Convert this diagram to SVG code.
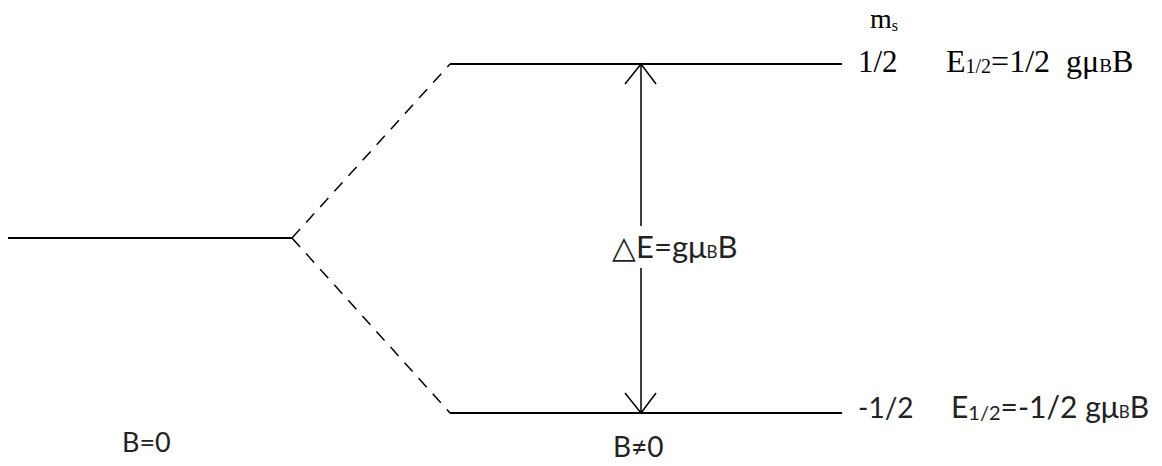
<svg xmlns="http://www.w3.org/2000/svg" width="1162" height="466" viewBox="0 0 1162 466">
<style>
.ln{stroke:#000;stroke-width:2;fill:none}
.ar{stroke:#000;stroke-width:1.5;fill:none}
.ds{stroke:#000;stroke-width:1.5;fill:none;stroke-dasharray:12,9}
.serif{font-family:"Liberation Serif","Times New Roman",serif;fill:#000}
.sans{font-family:Lato,"Open Sans","Liberation Sans",Arial,sans-serif;fill:#222}
</style>
<rect width="1162" height="466" fill="#fff"/>
<g id="level-b0">
<line class="ln" x1="8" y1="238" x2="292" y2="238"/>
</g>
<g id="level-up">
<line class="ln" x1="450" y1="64" x2="842" y2="64"/>
</g>
<g id="level-down">
<line class="ln" x1="450" y1="413" x2="842" y2="413"/>
</g>
<g id="connectors">
<line class="ds" x1="292" y1="238" x2="450" y2="64"/>
<line class="ds" x1="292" y1="238" x2="450" y2="413"/>
<line class="ar" x1="641" y1="64" x2="641" y2="226"/>
<line class="ar" x1="641" y1="268" x2="641" y2="413"/>
<polyline class="ar" points="625,84 641,64 656,84"/>
<polyline class="ar" points="625,393 641,413 656,393"/>
</g>
<g id="labels">
<text class="serif" x="870" y="28" font-size="28">m<tspan font-size="16" dy="3">s</tspan></text>
<text class="serif" x="858" y="72" font-size="31">1/2</text>
<text class="serif" x="946" y="72" font-size="32" xml:space="preserve">E<tspan font-size="20" dy="1">1/2</tspan><tspan dy="-1">=1/2  gμ</tspan><tspan font-size="19">B</tspan><tspan>B</tspan></text>
<text class="sans" x="858" y="418" font-size="28">-1/2</text>
<text class="sans" x="951" y="418" font-size="30">E<tspan font-size="20" dy="2">1/2</tspan><tspan dy="-2">=-1/2 gμ</tspan><tspan font-size="17">B</tspan><tspan>B</tspan></text>
<text class="sans" x="612" y="258" font-size="31">△E=gμ<tspan font-size="17">B</tspan><tspan>B</tspan></text>
<text class="sans" x="122" y="452" font-size="27">B=0</text>
<text class="sans" x="613" y="457" font-size="28">B≠0</text>
</g>
</svg>
